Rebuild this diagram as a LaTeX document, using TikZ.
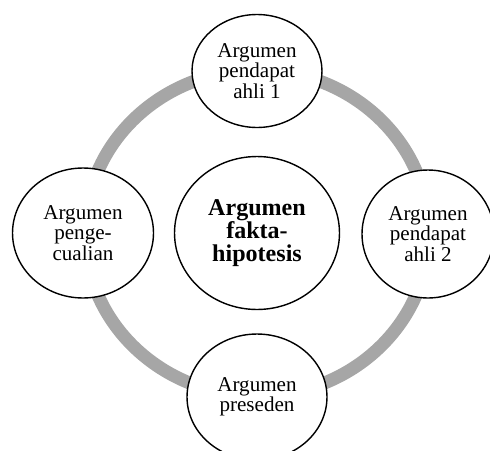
\documentclass[tikz,border=0pt]{standalone}
\usepackage{fontspec}
\setmainfont{Liberation Serif}
\usepackage{xcolor}
\usepackage{tikz}
\usetikzlibrary{shapes.geometric, positioning}
\definecolor{ringgray}{RGB}{166, 166, 166}

\begin{document}
\begin{tikzpicture}[
        x=0.02cm, y=-0.02cm,
        % --- TikZ Styles ---
        argbox/.style={
            ellipse, draw, line width=0.8pt, fill=white, inner sep=0pt,
            align=center, font=\fontsize{12pt}{11.6pt}\selectfont
        },
        mainbox/.style={argbox, font=\fontsize{13.7pt}{13.2pt}\selectfont\bfseries},
        ring/.style={line width=7.4pt, ringgray}
    ]
    \useasboundingbox (0,0) rectangle (490,450);

    % --- RING ---
    \draw[ring] (257,233) ellipse [x radius=172, y radius=163];

    % --- CENTRE ---
    \node[mainbox, minimum width=3.3cm, minimum height=3.06cm] (fakta) at (257,233) {
        Argumen\\ fakta-\\ hipotesis
    };

    % --- OUTER ARGUMENTS ---
    \node[argbox, minimum width=2.6cm, minimum height=2.26cm] (ahli1) at (257,71) {
        Argumen\\ pendapat\\ ahli 1
    };

    \node[argbox, minimum width=2.64cm, minimum height=2.56cm] (ahli2) at (428,234) {
        Argumen\\ pendapat\\ ahli 2
    };

    \node[argbox, minimum width=2.8cm, minimum height=2.52cm] (preseden) at (257,397) {
        Argumen\\ preseden
    };

    \node[argbox, minimum width=2.82cm, minimum height=2.6cm] (pengecualian) at (83,233) {
        Argumen\\ penge-\\ cualian
    };

\end{tikzpicture}
\end{document}
